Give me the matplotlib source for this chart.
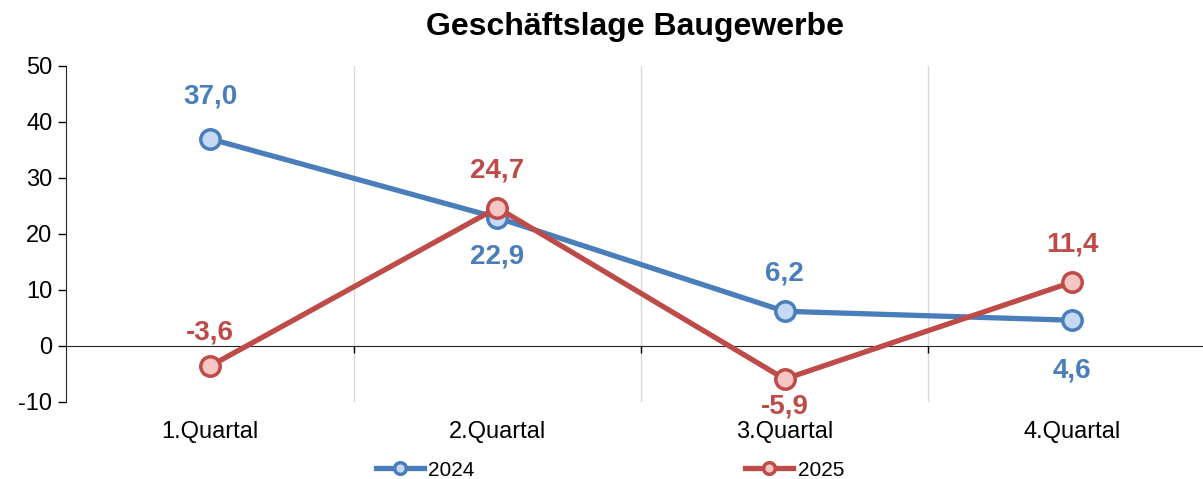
''' Geschäftslage Baugewerbe '''

import matplotlib.pyplot as plt

plt.rcParams['font.family'] = ['Liberation Sans', 'DejaVu Sans']
plt.rcParams['axes.unicode_minus'] = False

#data
quartale = ['1.Quartal', '2.Quartal', '3.Quartal', '4.Quartal']
werte_2024 = [37.0, 22.9, 6.2, 4.6]
werte_2025 = [-3.6, 24.7, -5.9, 11.4]

#label offsets in pixels (positive = above the point)
abstand_2024 = [42, -39, 38, -50]
abstand_2025 = [34, 37, -27, 38]

blau = '#4A7EBB'
rot = '#BE4B48'

fig = plt.figure(figsize=(12.03, 4.79), dpi=100)
ax = fig.add_axes([66.3/1203, 77/479, 1149.4/1203, 336/479])

x = range(len(quartale))
ax.plot(x, werte_2024, color=blau, lw=3.8, marker='o', ms=14, mfc='#C5D9F5',
        mec=blau, mew=2.5, label='2024', zorder=3)
ax.plot(x, werte_2025, color=rot, lw=3.8, marker='o', ms=14, mfc='#F6C6C4',
        mec=rot, mew=2.5, label='2025', zorder=4)

#data labels
for werte, abst, farbe in [(werte_2024, abstand_2024, blau),
                           (werte_2025, abstand_2025, rot)]:
    for xi, v, d in zip(x, werte, abst):
        ax.annotate(f'{v:.1f}'.replace('.', ','), (xi, v), xytext=(0, d*0.72),
                    textcoords='offset points', ha='center', va='center',
                    color=farbe, fontsize=20, fontweight='bold')

#axes
ax.set_xlim(-0.5, 3.5)
ax.set_ylim(-10, 50)
ax.set_yticks(range(-10, 51, 10))
ax.tick_params(axis='y', labelsize=17, length=6, width=1, direction='out', pad=4)
ax.set_xticks([0.5, 1.5, 2.5])
ax.set_xticklabels([])
ax.tick_params(axis='x', length=5, width=1, direction='out')
ax.grid(axis='x', color='#D9D9D9', lw=1)
ax.spines['bottom'].set_position(('data', 0))
ax.spines['top'].set_visible(False)
ax.spines['right'].set_visible(False)
ax.spines['left'].set_color('#262626')
ax.spines['bottom'].set_color('#262626')

#category labels
for xi, q in zip(x, quartale):
    ax.text(xi, -0.09, q, transform=ax.get_xaxis_transform(), ha='center',
            va='center', fontsize=17)

fig.suptitle('Geschäftslage Baugewerbe', x=0.528, y=1 - 27/479, va='center',
             fontsize=23, fontweight='bold')

fig.legend(loc='center', bbox_to_anchor=(610/1203, 9/479), ncol=2,
           frameon=False, fontsize=15, handlelength=2.3, handletextpad=0.2,
           columnspacing=13, markerscale=0.6)

plt.savefig('out.png', dpi=100)
